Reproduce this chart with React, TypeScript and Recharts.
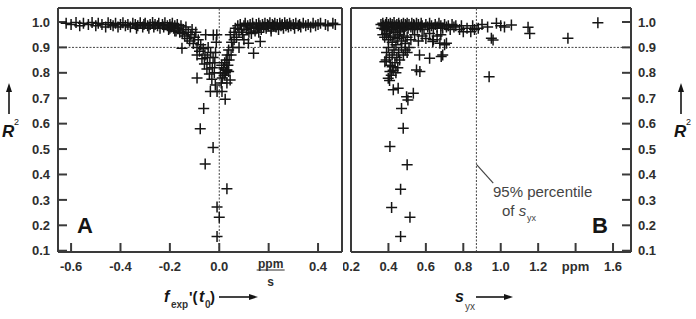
import React from 'react';
import {
  ScatterChart,
  Scatter,
  XAxis,
  YAxis,
  ReferenceLine,
} from 'recharts';

// panel A: f_exp'(t0) vs R²
const leftBand: [number, number][] = [
  [-0.62, 0.995], [-0.6, 0.99], [-0.58, 0.998], [-0.565, 0.985], [-0.55, 0.995],
  [-0.53, 0.99], [-0.515, 0.998], [-0.5, 0.985], [-0.49, 0.995], [-0.475, 0.99],
  [-0.46, 0.98], [-0.45, 0.997], [-0.44, 0.99], [-0.43, 0.985], [-0.42, 0.995],
  [-0.41, 0.98], [-0.4, 0.99], [-0.39, 0.997], [-0.38, 0.985], [-0.37, 0.99],
  [-0.36, 0.98], [-0.35, 0.995], [-0.34, 0.99], [-0.335, 0.975], [-0.33, 0.985],
  [-0.32, 0.997], [-0.31, 0.98], [-0.305, 0.99], [-0.3, 0.995], [-0.29, 0.985],
  [-0.285, 0.975], [-0.28, 0.99], [-0.27, 0.998], [-0.265, 0.98], [-0.26, 0.99],
  [-0.25, 0.985], [-0.245, 0.995], [-0.24, 0.975], [-0.23, 0.99], [-0.225, 0.98],
  [-0.22, 0.997], [-0.21, 0.985], [-0.205, 0.97], [-0.2, 0.99], [-0.195, 0.98],
  [-0.19, 0.995], [-0.185, 0.975], [-0.18, 0.985], [-0.175, 0.965], [-0.17, 0.99],
  [-0.165, 0.975], [-0.16, 0.96], [-0.155, 0.985], [-0.15, 0.955], [-0.145, 0.97],
  [-0.14, 0.945], [-0.135, 0.98], [-0.13, 0.935], [-0.125, 0.96], [-0.12, 0.925],
  [-0.115, 0.95], [-0.11, 0.97], [-0.105, 0.915], [-0.1, 0.94], [-0.095, 0.96],
  [0.06, 0.96], [0.065, 0.975], [0.07, 0.94], [0.075, 0.985], [0.08, 0.96],
  [0.085, 0.99], [0.09, 0.97], [0.095, 0.95], [0.1, 0.985], [0.105, 0.995],
  [0.11, 0.97], [0.115, 0.985], [0.12, 0.96], [0.125, 0.99], [0.13, 0.975],
  [0.135, 0.995], [0.14, 0.98], [0.145, 0.965], [0.15, 0.99], [0.155, 0.975],
  [0.16, 0.995], [0.165, 0.985], [0.17, 0.97], [0.175, 0.99], [0.18, 0.98],
  [0.185, 0.995], [0.19, 0.975], [0.195, 0.99], [0.2, 0.985], [0.205, 0.997],
  [0.21, 0.975], [0.215, 0.99], [0.22, 0.985], [0.225, 0.995], [0.23, 0.98],
  [0.235, 0.99], [0.24, 0.97], [0.245, 0.995], [0.25, 0.985], [0.255, 0.99],
  [0.26, 0.975], [0.265, 0.997], [0.27, 0.985], [0.275, 0.99], [0.28, 0.98],
  [0.285, 0.995], [0.29, 0.985], [0.3, 0.99], [0.305, 0.975], [0.31, 0.995],
  [0.32, 0.985], [0.325, 0.99], [0.33, 0.98], [0.34, 0.995], [0.35, 0.985],
  [0.36, 0.99], [0.37, 0.98], [0.38, 0.995], [0.39, 0.985], [0.4, 0.99],
  [0.41, 0.995], [0.43, 0.99], [0.44, 0.985], [0.46, 0.995], [0.47, 0.99],
  [-0.18, 0.965], [-0.2, 0.975], [0.13, 0.955], [0.16, 0.96], [0.21, 0.965],
];

const leftDip: [number, number][] = [
  [-0.09, 0.9], [-0.09, 0.87], [-0.085, 0.93], [-0.08, 0.885], [-0.075, 0.91],
  [-0.07, 0.855], [-0.065, 0.895], [-0.06, 0.835], [-0.058, 0.87], [-0.055, 0.95],
  [-0.05, 0.815], [-0.048, 0.86], [-0.045, 0.9], [-0.04, 0.795], [-0.038, 0.84],
  [-0.035, 0.88], [-0.03, 0.775], [-0.028, 0.82], [-0.025, 0.86], [-0.02, 0.8],
  [-0.018, 0.84], [-0.015, 0.88], [-0.012, 0.92], [-0.01, 0.95], [-0.024, 0.949],
  [0.06, 0.93], [0.055, 0.9], [0.05, 0.92], [0.048, 0.87], [0.045, 0.95],
  [0.04, 0.85], [0.038, 0.89], [0.035, 0.83], [0.032, 0.87], [0.03, 0.81],
  [0.028, 0.85], [0.025, 0.8], [0.022, 0.84], [0.02, 0.79], [0.018, 0.82],
  [0.015, 0.8], [0.012, 0.78], [0.01, 0.83], [0.008, 0.76], [0.005, 0.8],
  [0.044, 0.772], [0.038, 0.805], [0.031, 0.811], [0.024, 0.696], [0.011, 0.726],
  [-0.009, 0.726], [-0.036, 0.726], [0.031, 0.76], [-0.016, 0.752],
  [-0.151, 0.897], [-0.09, 0.78], [0.08, 0.9], [0.118, 0.916], [0.139, 0.877],
  [0.166, 0.923], [0.1, 0.93],
];

const leftOutliers: [number, number][] = [
  [-0.063, 0.66], [-0.077, 0.58], [-0.025, 0.506], [-0.057, 0.441],
  [0.031, 0.344], [-0.009, 0.272], [0.0, 0.232], [-0.009, 0.156],
];

// panel B: s_yx vs R²
const rightTop: [number, number][] = [
  [0.36, 0.99], [0.365, 0.975], [0.37, 0.995], [0.375, 0.985], [0.38, 0.97],
  [0.385, 0.99], [0.39, 0.998], [0.395, 0.98], [0.4, 0.99], [0.405, 0.965],
  [0.41, 0.995], [0.415, 0.98], [0.42, 0.99], [0.425, 0.97], [0.43, 0.998],
  [0.435, 0.985], [0.44, 0.96], [0.445, 0.99], [0.45, 0.975], [0.455, 0.995],
  [0.46, 0.985], [0.465, 0.965], [0.47, 0.99], [0.475, 0.98], [0.48, 0.995],
  [0.485, 0.97], [0.49, 0.99], [0.495, 0.985], [0.5, 0.995], [0.505, 0.975],
  [0.51, 0.99], [0.52, 0.98], [0.525, 0.995], [0.53, 0.97], [0.535, 0.99],
  [0.54, 0.985], [0.55, 0.995], [0.555, 0.975], [0.56, 0.99], [0.57, 0.98],
  [0.575, 0.995], [0.58, 0.985], [0.59, 0.97], [0.6, 0.99], [0.61, 0.98],
  [0.62, 0.995], [0.63, 0.985], [0.64, 0.975], [0.65, 0.99], [0.66, 0.98],
  [0.67, 0.995], [0.68, 0.985], [0.69, 0.975], [0.7, 0.99], [0.71, 0.98],
  [0.72, 0.985], [0.73, 0.97], [0.74, 0.99], [0.75, 0.98], [0.76, 0.985],
  [0.78, 0.97], [0.79, 0.985], [0.8, 0.962], [0.82, 0.975], [0.84, 0.962],
  [0.85, 0.985], [0.86, 0.97], [0.88, 0.975], [0.9, 0.99], [0.93, 0.98],
  [0.977, 0.995], [1.0, 0.985], [1.02, 0.98], [1.057, 0.988], [1.146, 0.979],
  [1.155, 0.955], [1.359, 0.936], [1.519, 0.997], [0.959, 0.929], [0.95, 0.936],
  [0.37, 0.95], [0.38, 0.94], [0.39, 0.955], [0.4, 0.93], [0.41, 0.945],
  [0.42, 0.92], [0.43, 0.94], [0.44, 0.91], [0.45, 0.935], [0.46, 0.95],
  [0.47, 0.925], [0.48, 0.945], [0.49, 0.915], [0.5, 0.94], [0.52, 0.93],
  [0.54, 0.95], [0.56, 0.925], [0.58, 0.945], [0.6, 0.935], [0.62, 0.955],
  [0.64, 0.93], [0.675, 0.916], [0.71, 0.916], [0.7, 0.91], [0.68, 0.95],
  [0.66, 0.945],
];

const rightColumn: [number, number][] = [
  [0.388, 0.85], [0.39, 0.88], [0.4, 0.9], [0.405, 0.86], [0.41, 0.83],
  [0.415, 0.79], [0.406, 0.77], [0.42, 0.87], [0.425, 0.81], [0.43, 0.89],
  [0.435, 0.84], [0.44, 0.8], [0.445, 0.86], [0.45, 0.82], [0.455, 0.88],
  [0.46, 0.85], [0.47, 0.9], [0.48, 0.87], [0.49, 0.89], [0.5, 0.88],
  [0.51, 0.9], [0.399, 0.779], [0.408, 0.805], [0.42, 0.824], [0.381, 0.844],
  [0.426, 0.733], [0.452, 0.739], [0.47, 0.66], [0.479, 0.582], [0.408, 0.51],
  [0.497, 0.706], [0.533, 0.72], [0.504, 0.693], [0.55, 0.811], [0.568, 0.805],
  [0.566, 0.87], [0.62, 0.857], [0.682, 0.864], [0.637, 0.923], [0.69, 0.87],
  [0.938, 0.785],
];

const rightOutliers: [number, number][] = [
  [0.5, 0.438], [0.465, 0.342], [0.417, 0.27], [0.515, 0.232], [0.465, 0.156],
];

const r2Ticks = [0.1, 0.2, 0.3, 0.4, 0.5, 0.6, 0.7, 0.8, 0.9, 1.0];
const fTicks = [-0.6, -0.4, -0.2, 0, 0.2, 0.4];
const sTicks = [0.2, 0.4, 0.6, 0.8, 1.0, 1.2, 1.4, 1.6];
const percentile95 = 0.87;
const r2Limit = 0.9;

const FONT = '"Liberation Sans", Arial, sans-serif';
const INK = '#151515';
const FRAME = '#3a3a3a';
const R2_DOMAIN: [number, number] = [0.095, 1.055];

const toPts = (arr: [number, number][]) => arr.map(([x, r2]) => ({ x, r2 }));

const Plus = (props: any) => {
  const { cx, cy } = props;
  if (cx == null || cy == null) return null;
  return (
    <path
      d={`M${cx - 5.5},${cy}H${cx + 5.5}M${cx},${cy - 5.5}V${cy + 5.5}`}
      stroke={INK}
      strokeWidth={1.5}
      fill="none"
    />
  );
};

const tickStyle = { fontSize: 13, fontWeight: 'bold', fill: '#2e2e2e', fontFamily: FONT };
const frameLine = { stroke: FRAME, strokeWidth: 2 };

const LeftXTick = (props: any) => {
  const { x, y, payload } = props;
  if (Math.abs(payload.value - 0.2) < 1e-6) {
    return (
      <g fontFamily={FONT} fontWeight="bold" fill="#2e2e2e">
        <text x={x + 2} y={y + 6} textAnchor="middle" fontSize={12}>ppm</text>
        <line x1={x - 12} x2={x + 16} y1={y + 8} y2={y + 8} stroke="#2e2e2e" strokeWidth={1} />
        <text x={x + 2} y={y + 24} textAnchor="middle" fontSize={12}>s</text>
      </g>
    );
  }
  return (
    <text x={x} y={y} dy="0.71em" textAnchor="middle" {...tickStyle}>
      {payload.value.toFixed(1)}
    </text>
  );
};

const RightXTick = (props: any) => {
  const { x, y, payload } = props;
  const label = Math.abs(payload.value - 1.4) < 1e-6 ? 'ppm' : payload.value.toFixed(1);
  return (
    <text x={x} y={y} dy="0.71em" textAnchor="middle" {...tickStyle}>
      {label}
    </text>
  );
};

const Arrow = ({ x1, y1, x2, y2 }: { x1: number; y1: number; x2: number; y2: number }) => {
  const horiz = y1 === y2;
  const head = horiz
    ? `${x2},${y2} ${x2 - 9},${y2 - 3} ${x2 - 9},${y2 + 3}`
    : `${x2},${y2} ${x2 - 3},${y2 + 9} ${x2 + 3},${y2 + 9}`;
  return (
    <g>
      <line x1={x1} y1={y1} x2={horiz ? x2 - 8 : x2} y2={horiz ? y2 : y2 + 8} stroke={INK} strokeWidth={1.6} />
      <polygon points={head} fill={INK} />
    </g>
  );
};

export default function App() {
  return (
    <div style={{ position: 'absolute', left: 0, top: 0, width: 696, height: 319, background: '#fff' }}>
      <div style={{ position: 'absolute', left: 0, top: 0 }}>
        <ScatterChart width={350} height={319} margin={{ top: 7, right: 7, bottom: 27, left: 0 }}>
          <XAxis
            xAxisId="b"
            dataKey="x"
            type="number"
            domain={[-0.653, 0.497]}
            allowDataOverflow
            ticks={fTicks}
            interval={0}
            height={40}
            tickSize={-9}
            tickMargin={19}
            tick={<LeftXTick />}
            axisLine={frameLine}
            tickLine={frameLine}
          />
          <XAxis
            xAxisId="t"
            orientation="top"
            type="number"
            domain={[-0.653, 0.497]}
            allowDataOverflow
            ticks={fTicks}
            interval={0}
            height={1}
            tickSize={-9}
            tick={false}
            axisLine={frameLine}
            tickLine={frameLine}
          />
          <YAxis
            yAxisId="l"
            dataKey="r2"
            type="number"
            domain={R2_DOMAIN}
            allowDataOverflow
            ticks={r2Ticks}
            interval={0}
            width={58}
            tickSize={-9}
            tickMargin={17}
            tick={tickStyle}
            tickFormatter={(v: number) => v.toFixed(1)}
            axisLine={frameLine}
            tickLine={frameLine}
          />
          <YAxis
            yAxisId="r"
            orientation="right"
            type="number"
            domain={R2_DOMAIN}
            allowDataOverflow
            ticks={r2Ticks}
            interval={0}
            width={1}
            tickSize={-9}
            tick={false}
            axisLine={frameLine}
            tickLine={frameLine}
          />
          <ReferenceLine xAxisId="b" yAxisId="l" y={r2Limit} stroke="#444" strokeDasharray="2 1.5" />
          <ReferenceLine xAxisId="b" yAxisId="l" x={0} stroke="#444" strokeDasharray="2 1.5" />
          <Scatter xAxisId="b" yAxisId="l" data={toPts(leftBand)} shape={<Plus />} isAnimationActive={false} />
          <Scatter xAxisId="b" yAxisId="l" data={toPts(leftDip)} shape={<Plus />} isAnimationActive={false} />
          <Scatter xAxisId="b" yAxisId="l" data={toPts(leftOutliers)} shape={<Plus />} isAnimationActive={false} />
        </ScatterChart>
      </div>

      <div style={{ position: 'absolute', left: 343, top: 0 }}>
        <ScatterChart width={353} height={319} margin={{ top: 7, right: 0, bottom: 27, left: 7 }}>
          <XAxis
            xAxisId="b"
            dataKey="x"
            type="number"
            domain={[0.2, 1.696]}
            allowDataOverflow
            ticks={sTicks}
            interval={0}
            height={40}
            tickSize={-9}
            tickMargin={19}
            tick={<RightXTick />}
            axisLine={frameLine}
            tickLine={frameLine}
          />
          <XAxis
            xAxisId="t"
            orientation="top"
            type="number"
            domain={[0.2, 1.696]}
            allowDataOverflow
            ticks={sTicks}
            interval={0}
            height={1}
            tickSize={-9}
            tick={false}
            axisLine={frameLine}
            tickLine={frameLine}
          />
          <YAxis
            yAxisId="l"
            dataKey="r2"
            type="number"
            domain={R2_DOMAIN}
            allowDataOverflow
            ticks={r2Ticks}
            interval={0}
            width={1}
            tickSize={-9}
            tick={false}
            axisLine={frameLine}
            tickLine={frameLine}
          />
          <YAxis
            yAxisId="r"
            orientation="right"
            type="number"
            domain={R2_DOMAIN}
            allowDataOverflow
            ticks={r2Ticks}
            interval={0}
            width={65}
            tickSize={-9}
            tickMargin={16}
            tick={tickStyle}
            tickFormatter={(v: number) => v.toFixed(1)}
            axisLine={frameLine}
            tickLine={frameLine}
          />
          <ReferenceLine xAxisId="b" yAxisId="l" y={r2Limit} stroke="#444" strokeDasharray="2 1.5" />
          <ReferenceLine xAxisId="b" yAxisId="l" x={percentile95} stroke="#444" strokeDasharray="2 1.5" />
          <ReferenceLine
            xAxisId="b"
            yAxisId="l"
            segment={[{ x: 0.87, y: 0.44 }, { x: 0.96, y: 0.366 }]}
            stroke="#444"
            strokeWidth={1.2}
          />
          <Scatter xAxisId="b" yAxisId="l" data={toPts(rightTop)} shape={<Plus />} isAnimationActive={false} />
          <Scatter xAxisId="b" yAxisId="l" data={toPts(rightColumn)} shape={<Plus />} isAnimationActive={false} />
          <Scatter xAxisId="b" yAxisId="l" data={toPts(rightOutliers)} shape={<Plus />} isAnimationActive={false} />
        </ScatterChart>
      </div>

      <svg
        width={696}
        height={319}
        style={{ position: 'absolute', left: 0, top: 0, pointerEvents: 'none' }}
        fontFamily={FONT}
      >
        {/* panel letters */}
        <text x={77} y={233} fontSize={22} fontWeight="bold" fill={INK}>A</text>
        <text x={592} y={233} fontSize={22} fontWeight="bold" fill={INK}>B</text>

        {/* left R² */}
        <Arrow x1={9} y1={114} x2={9} y2={83} />
        <text x={2} y={137} fontSize={17} fontWeight="bold" fontStyle="italic" fill={INK}>R</text>
        <text x={14} y={125} fontSize={9} fill={INK}>2</text>

        {/* right R² */}
        <Arrow x1={681} y1={114} x2={681} y2={83} />
        <text x={674} y={137} fontSize={17} fontWeight="bold" fontStyle="italic" fill={INK}>R</text>
        <text x={686} y={125} fontSize={9} fill={INK}>2</text>

        {/* x title A */}
        <text x={164} y={302} fontSize={16} fontWeight="bold" fontStyle="italic" fill={INK}>f</text>
        <text x={171} y={308} fontSize={10} fontWeight="bold" fill="#333">exp</text>
        <text x={189} y={302} fontSize={15} fontWeight="bold" fill={INK}>'(</text>
        <text x={199} y={302} fontSize={16} fontWeight="bold" fontStyle="italic" fill={INK}>t</text>
        <text x={205} y={308} fontSize={10} fontWeight="bold" fill="#333">0</text>
        <text x={210} y={302} fontSize={15} fontWeight="bold" fill={INK}>)</text>
        <Arrow x1={219} y1={297} x2={258} y2={297} />

        {/* x title B */}
        <text x={455} y={302} fontSize={16} fontWeight="bold" fontStyle="italic" fill={INK}>s</text>
        <text x={465} y={310} fontSize={10} fill="#444">yx</text>
        <Arrow x1={476} y1={297} x2={513} y2={297} />

        {/* percentile annotation */}
        <text x={493} y={197} fontSize={15} fill="#444">95% percentile</text>
        <text x={502} y={216} fontSize={15} fill="#444">of <tspan fontStyle="italic">s</tspan></text>
        <text x={527} y={221} fontSize={9} fill="#444">yx</text>
      </svg>
    </div>
  );
}
